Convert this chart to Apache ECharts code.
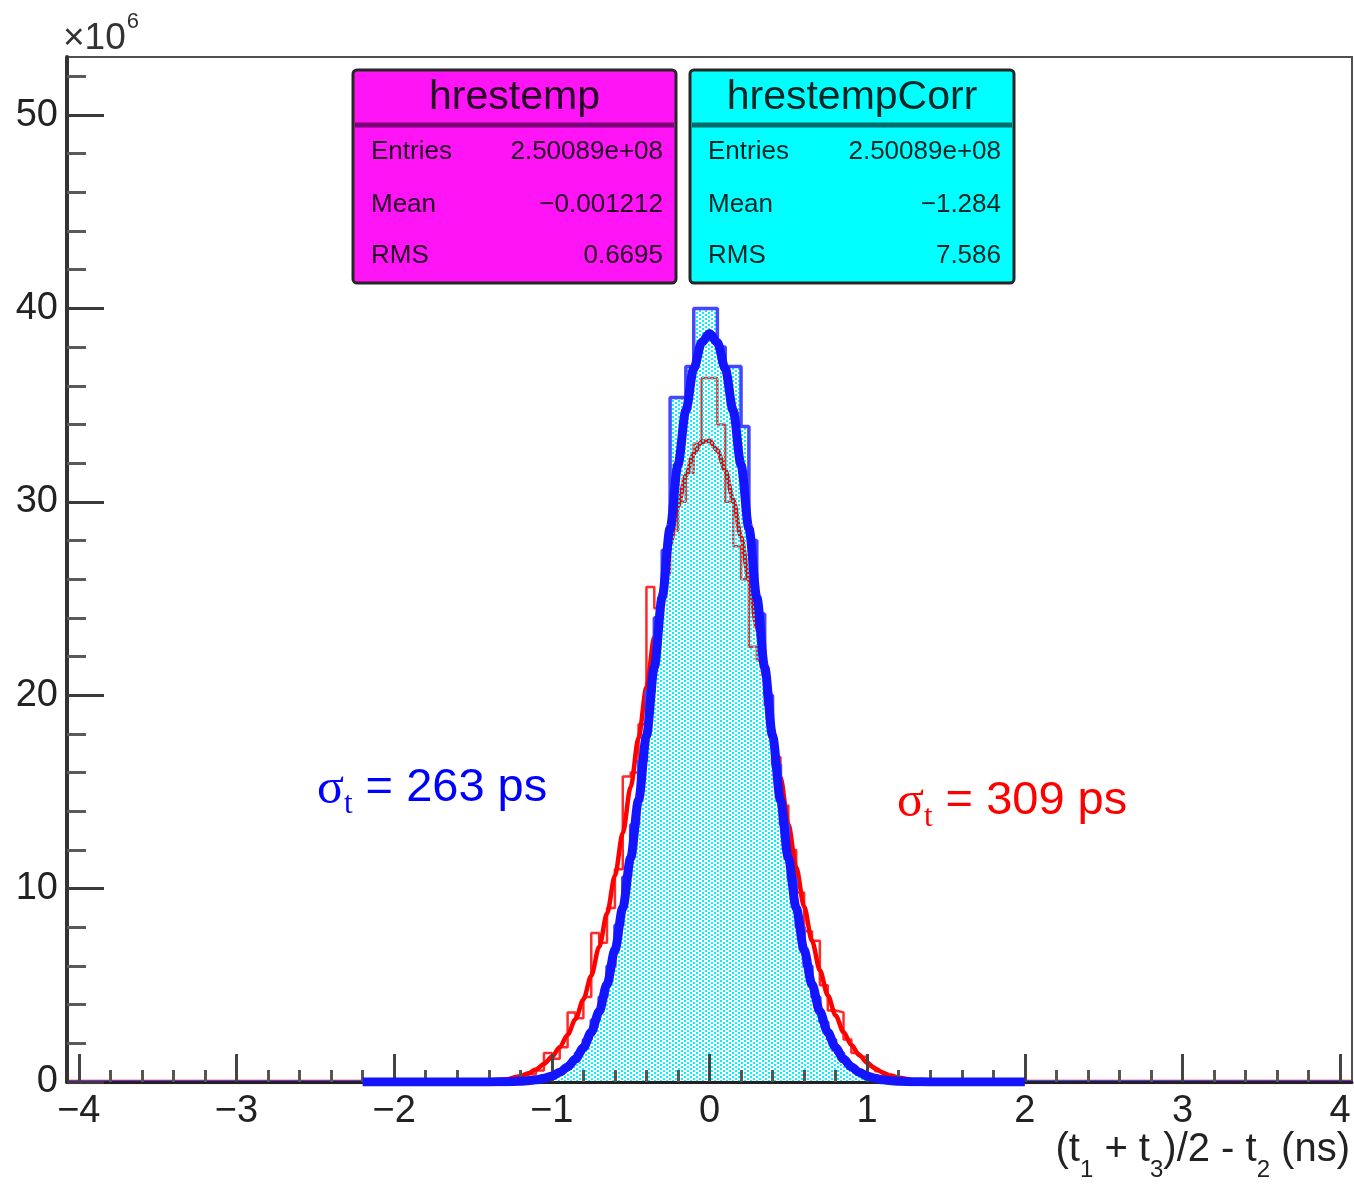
<!DOCTYPE html>
<html><head><meta charset="utf-8">
<script src="https://cdn.jsdelivr.net/npm/echarts@6/dist/echarts.min.js"></script>
<style>html,body{margin:0;padding:0;background:#fff}#c{width:1354px;height:1184px}</style>
</head><body><div id="c"></div>
<script>
// ---------------- data ----------------
const xMin = -4.075, xMax = 4.075, yMin = 0, yMax = 53;
const xMajorTicks = [-4, -3, -2, -1, 0, 1, 2, 3, 4];
const yMajorTicks = [0, 10, 20, 30, 40, 50];
const yMinorTicks = [2,4,6,8,12,14,16,18,22,24,26,28,32,34,36,38,42,44,46,48,52];

// histogram binning (ns) and contents (x10^6)
const binStart = -1.5, binWidth = 0.05;
const hrestemp = [0.02,0.03,0.05,0.07,0.1,0.15,0.25,0.4,0.6,1.5,
  1.2,1.8,3.6,3.3,4.4,7.7,7.2,9.0,11.0,15.8,
  16.0,18.5,25.6,24.5,26.3,28.5,30.0,31.5,33.0,36.4,
  36.4,34.0,30.0,27.7,26.0,22.5,21.8,19.5,16.8,14.3,
  12.0,9.8,7.8,7.3,5.0,3.7,3.6,2.2,1.5,1.3,
  0.8,0.55,0.35,0.25,0.15,0.1,0.07,0.05,0.04,0.03];
const hrestempCorr = [0.01,0.01,0.02,0.02,0.03,0.04,0.06,0.09,0.15,0.25,
  0.42,0.65,1.0,1.5,2.2,3.2,4.4,6.0,8.1,10.6,
  13.3,16.6,20.2,24.0,27.5,35.4,35.4,37.0,40.0,40.0,
  40.0,38.0,37.0,37.0,33.9,28.0,24.2,20.0,16.4,13.3,
  10.5,8.0,6.0,4.4,3.1,2.2,1.5,1.0,0.64,0.41,
  0.25,0.15,0.09,0.05,0.03,0.02,0.02,0.01,0.01,0.01];

// fitted curves, sampled from -1.2 to 1.2 every 0.05 ns
const fitStart = -1.2, fitStep = 0.05;
const fitHrestemp = [0.30,0.45,0.65,0.93,1.30,1.80,2.44,3.25,4.27,5.50,6.98,8.71,10.67,12.87,15.26,17.80,20.40,22.99,25.49,27.78,29.76,31.36,32.49,33.10,33.16,
  32.66,31.63,30.12,28.20,25.96,23.50,20.92,18.31,15.76,13.34,11.10,9.08,7.30,5.78,4.49,3.44,2.58,1.91,1.39,0.99,0.70,0.48,0.33,0.22];
const fitHrestempTailL = [[-4.075,0],[-2.0,0],[-1.5,0.02],[-1.4,0.06],[-1.3,0.13]];
const fitHrestempTailR = [[1.3,0.09],[1.4,0.04],[1.5,0.02],[2.0,0],[4.075,0]];
const fitCorr = [0.04,0.066,0.11,0.19,0.31,0.50,0.78,1.19,1.77,2.57,3.64,5.05,6.82,9.00,11.59,14.57,17.89,21.44,25.07,28.63,31.91,34.72,36.88,38.24,38.7,
  38.24,36.88,34.72,31.91,28.63,25.07,21.44,17.89,14.57,11.59,9.00,6.82,5.05,3.64,2.57,1.77,1.19,0.78,0.50,0.31,0.19,0.11,0.066,0.04];
const fitCorrTailL = [[-2.2,0],[-1.6,0],[-1.4,0.005],[-1.3,0.015]];
const fitCorrTailR = [[1.3,0.015],[1.4,0.005],[1.6,0],[2.0,0]];

const statLabels = ['Entries', 'Mean', 'RMS'];
const statsHrestemp = ['2.50089e+08', '\u22120.001212', '0.6695'];
const statsCorr = ['2.50089e+08', '\u22121.284', '7.586'];

// ---------------- helpers ----------------
const SANS = '"Liberation Sans", Arial, Helvetica, sans-serif';
const SERIF = '"Liberation Serif", "Times New Roman", serif';
const mctx = document.createElement('canvas').getContext('2d');
function tw(t, s, f) { mctx.font = s + 'px ' + f; return mctx.measureText(t).width; }
function txt(x, y, text, size, family, fill, align, z) {
  return {type:'text', x:x, y:y, z:z||100, style:{text:text, fontSize:size, fontFamily:family, fill:fill,
    textAlign:align||'left', textVerticalAlign:'middle', align:align||'left', verticalAlign:'middle'}};
}
function pieces(list, x, y, color, rightAlign) {
  const total = list.reduce((s,p)=>s+tw(p.t,p.s,p.f),0);
  let cx = rightAlign ? x - total : x;
  return list.map(p => { const e = txt(cx, y + (p.dy||0), p.t, p.s, p.f, color, 'left'); cx += tw(p.t,p.s,p.f); return e; });
}
function histPoints(vals) {
  const pts = [[xMin, 0]];
  vals.forEach((v,i) => pts.push([binStart + i*binWidth, v]));
  pts.push([binStart + vals.length*binWidth, 0]);
  pts.push([xMax, 0]);
  return pts;
}
function fitPoints(tailL, vals, tailR) {
  return tailL.concat(vals.map((v,i) => [fitStart + i*fitStep, v]), tailR);
}
function statBox(x0, w, fill, sep, tc, title, vals) {
  const els = [];
  els.push({type:'rect', z:100, shape:{x:x0, y:70, width:w, height:213, r:4}, style:{fill:fill, stroke:'#262626', lineWidth:3}});
  els.push({type:'line', z:101, shape:{x1:x0+2, y1:125, x2:x0+w-2, y2:125}, style:{stroke:sep, lineWidth:5}});
  els.push(txt(x0 + w/2, 98, title, 41, SANS, tc, 'center', 101));
  const ys = [152, 205, 256];
  statLabels.forEach((l,i) => {
    els.push(txt(x0 + 18, ys[i], l, 26, SANS, tc, 'left', 101));
    els.push(txt(x0 + w - 13, ys[i], vals[i], 26, SANS, tc, 'right', 101));
  });
  return els;
}

const xMinorTicks = [];
for (let k = -20; k <= 20; k++) { if (k % 5 !== 0) xMinorTicks.push(+(k*0.2).toFixed(1)); }

// dotted cyan fill pattern
const pat = document.createElement('canvas'); pat.width = 6; pat.height = 4;
const pc = pat.getContext('2d'); pc.fillStyle = '#00f4ff';
pc.fillRect(0,0,2,2); pc.fillRect(3,2,2,2);

const minus = v => String(v).replace('-', '\u2212');

// ---------------- chart ----------------
const chart = echarts.init(document.getElementById('c'), null, {renderer:'canvas'});
const x10w = tw('\u00d710', 37, SANS);
const graphics = [].concat(
  statBox(353, 323, '#ff14f5', '#7a0078', '#260026', 'hrestemp', statsHrestemp),
  statBox(690, 324, '#00ffff', '#006a6a', '#002626', 'hrestempCorr', statsCorr),
  pieces([{t:'\u00d710', s:37, f:SANS}], 63, 39, '#333', false),
  pieces([{t:'6', s:22, f:SANS}], 63 + x10w + 1, 22, '#333', false),
  pieces([{t:'(t', s:40, f:SANS}, {t:'1', s:24, f:SANS, dy:20}, {t:' + t', s:40, f:SANS}, {t:'3', s:24, f:SANS, dy:20},
          {t:')/2 - t', s:40, f:SANS}, {t:'2', s:24, f:SANS, dy:20}, {t:' (ns)', s:40, f:SANS}], 1350, 1150, '#222', true),
  pieces([{t:'\u03c3', s:50, f:SERIF, dy:2}, {t:'t', s:31, f:SERIF, dy:17}, {t:' = 263 ps', s:47, f:SANS}], 317, 788, '#0000ff', false),
  pieces([{t:'\u03c3', s:50, f:SERIF, dy:2}, {t:'t', s:31, f:SERIF, dy:17}, {t:' = 309 ps', s:47, f:SANS}], 897, 801, '#ff0000', false)
);

const labelStyle = {fontSize:38, fontFamily:SANS, color:'#222'};
chart.setOption({
  animation: false,
  grid: {left:67, right:2, top:57, bottom:102, show:true, borderColor:'#505050', borderWidth:2, backgroundColor:'transparent'},
  xAxis: [
    {type:'value', min:xMin, max:xMax, position:'bottom', z:6,
     axisLine:{show:true, onZero:false, lineStyle:{color:'#222', width:3}},
     axisTick:{show:true, inside:true, length:28, customValues:xMajorTicks, lineStyle:{color:'#444', width:3}},
     axisLabel:Object.assign({show:true, margin:11, customValues:xMajorTicks, formatter:minus}, labelStyle),
     splitLine:{show:false}},
    {type:'value', min:xMin, max:xMax, position:'bottom', z:6,
     axisLine:{show:false, onZero:false},
     axisTick:{show:true, inside:true, length:12, customValues:xMinorTicks, lineStyle:{color:'#555', width:3}},
     axisLabel:{show:false}, splitLine:{show:false}}
  ],
  yAxis: [
    {type:'value', min:yMin, max:yMax, position:'left', offset:0, z:6,
     axisLine:{show:true, onZero:false, lineStyle:{color:'#333', width:4}},
     axisTick:{show:true, inside:true, length:37, customValues:yMajorTicks, lineStyle:{color:'#3a3a3a', width:3}},
     axisLabel:Object.assign({show:true, margin:9, customValues:yMajorTicks}, labelStyle),
     splitLine:{show:false}},
    {type:'value', min:yMin, max:yMax, position:'left', offset:0, z:6,
     axisLine:{show:false, onZero:false},
     axisTick:{show:true, inside:true, length:19, customValues:yMinorTicks, lineStyle:{color:'#5a5a5a', width:3}},
     axisLabel:{show:false}, splitLine:{show:false}}
  ],
  series: [
    {type:'line', name:'hrestemp', data:histPoints(hrestemp), step:'end', symbol:'none', z:3,
     lineStyle:{color:'#ff2a2a', width:2.5}},
    {type:'line', name:'fit hrestemp', data:fitPoints(fitHrestempTailL, fitHrestemp, fitHrestempTailR), smooth:0.3, smoothMonotone:'x', symbol:'none', z:4,
     lineStyle:{color:'#ff0000', width:4.5}},
    {type:'line', name:'hrestempCorr', data:histPoints(hrestempCorr), step:'end', symbol:'none', z:5,
     lineStyle:{color:'#4646ff', width:3.5},
     areaStyle:{color:{image:pat, repeat:'repeat'}, opacity:1}},
    {type:'line', name:'fit hrestempCorr', data:fitPoints(fitCorrTailL, fitCorr, fitCorrTailR), smooth:0.3, smoothMonotone:'x', symbol:'none', z:7,
     lineStyle:{color:'#1414ff', width:9}}
  ],
  graphic: {elements: graphics}
});
</script>
</body></html>
